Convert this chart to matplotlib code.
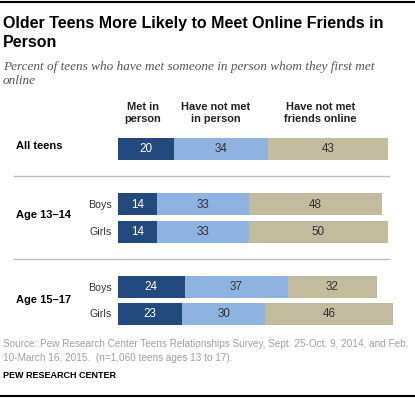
import matplotlib
matplotlib.use("Agg")
import matplotlib.pyplot as plt

# ---- data ----
groups = ["All teens", "Age 13\u201314", "Age 15\u201317"]
rows = ["", "Boys", "Girls", "Boys", "Girls"]
met = [20, 14, 14, 24, 23]
not_met = [34, 33, 33, 37, 30]
no_friends = [43, 48, 50, 32, 46]
headers = ["Met in\nperson", "Have not met\nin person", "Have not met\nfriends online"]

title = "Older Teens More Likely to Meet Online Friends in\nPerson"
subtitle = "Percent of teens who have met someone in person whom they first met\nonline"
source = ("Source: Pew Research Center Teens Relationships Survey, Sept. 25-Oct. 9, 2014, and Feb.\n"
          "10-March 16, 2015.  (n=1,060 teens ages 13 to 17).")
credit = "PEW RESEARCH CENTER"

# ---- layout (pixels) ----
W, H = 415, 398
DPI = 100
x0 = 118.0
ppu = 2.78
row_y = [149, 204, 231.7, 286.7, 313.8]
bar_h = 22

C_DARK = "#224A7C"
C_LIGHT = "#8FB3E1"
C_TAN = "#C3BB9E"

fig = plt.figure(figsize=(W / DPI, H / DPI), dpi=DPI)
ax = fig.add_axes([0, 0, 1, 1])
ax.set_xlim(-x0 / ppu, (W - x0) / ppu)
ax.set_ylim(H, 0)
ax.axis("off")

sans = "Liberation Sans"
serif = "Liberation Serif"

left = [0] * len(met)
for vals, col, tcol in [(met, C_DARK, "white"), (not_met, C_LIGHT, "#333333"), (no_friends, C_TAN, "#333333")]:
    ax.barh(row_y, vals, left=left, height=bar_h, color=col, edgecolor="none")
    for y, l, v in zip(row_y, left, vals):
        ax.text(l + v / 2, y + 0.5, f"{v}", ha="center", va="center", color=tcol,
                fontsize=8.4, family=sans)
    left = [a + b for a, b in zip(left, vals)]

def px(x, y, s, **kw):
    fig.text(x / W, 1 - y / H, s, **kw)

# top and bottom rules
fig.add_artist(plt.Line2D([0, 1], [1 - 1.5 / H, 1 - 1.5 / H], color="black", lw=1.5))
fig.add_artist(plt.Line2D([0, 1], [1 - 396 / H, 1 - 396 / H], color="black", lw=1.5))

# separators
for ys in [176.3, 259.3]:
    fig.add_artist(plt.Line2D([14 / W, 389 / W], [1 - ys / H] * 2, color="#BFBFBF", lw=1.0))

# title / subtitle
t1, t2 = title.split("\n")
px(3, 28, t1, fontsize=11.5, fontweight="bold", family=sans, va="baseline")
px(3, 47, t2, fontsize=11.5, fontweight="bold", family=sans, va="baseline")
s1, s2 = subtitle.split("\n")
px(3, 70, s1, fontsize=9.5, style="italic", family=serif, color="#555555", va="baseline")
px(3, 84, s2, fontsize=9.5, style="italic", family=serif, color="#555555", va="baseline")

# headers
hx = [142.7, 216, 320.5]
for x, h in zip(hx, headers):
    a, b = h.split("\n")
    px(x, 109.5, a, fontsize=7.9, fontweight="bold", family=sans, ha="center", va="baseline", color="#222222")
    px(x, 121.5, b, fontsize=7.9, fontweight="bold", family=sans, ha="center", va="baseline", color="#222222")

# group labels
group_base = [149, 218, 302.7]
for g, yb in zip(groups, group_base):
    px(16, yb, g, fontsize=8, fontweight="bold", family=sans, va="baseline")

row_base = [None, 208, 235, 290.7, 317]
for r, yb in zip(rows, row_base):
    if r:
        px(112, yb, r, fontsize=7.7, family=sans, ha="right", va="baseline", color="#333333")

# source
sa, sb = source.split("\n")
px(3, 346.7, sa, fontsize=7.2, family=sans, color="#A0A0A0", va="baseline")
px(3, 360.7, sb, fontsize=7.2, family=sans, color="#A0A0A0", va="baseline")
px(3, 378, credit, fontsize=6.5, fontweight="bold", family=sans, va="baseline")

fig.savefig("out.png", dpi=DPI)
